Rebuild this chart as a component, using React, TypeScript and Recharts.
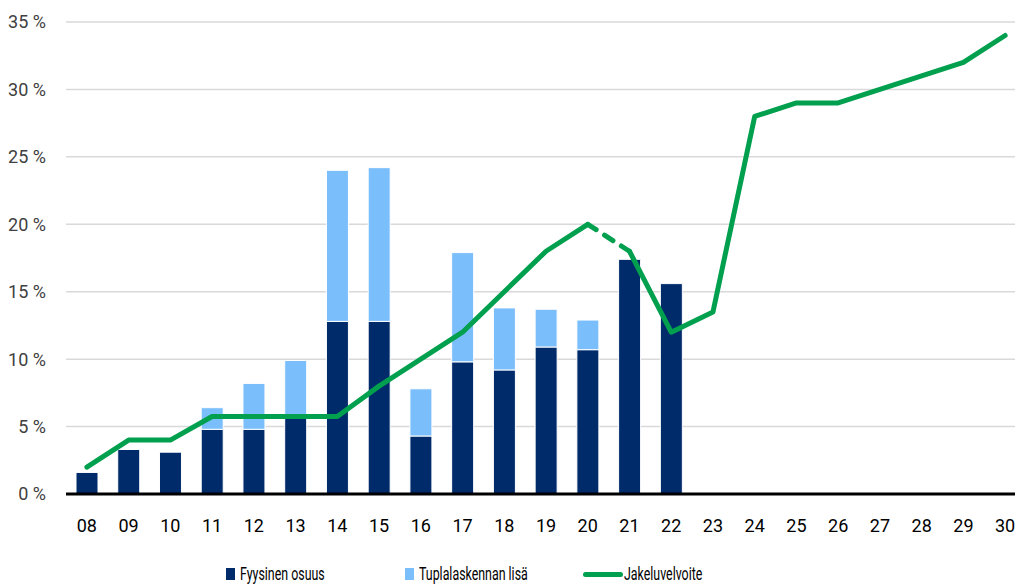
import {
  Bar,
  CartesianGrid,
  ComposedChart,
  Legend,
  Line,
  XAxis,
  YAxis,
} from "recharts";

const years = ["08", "09", "10", "11", "12", "13", "14", "15", "16", "17", "18", "19", "20", "21", "22", "23", "24", "25", "26", "27", "28", "29", "30"];

// Fyysinen osuus (%)
const fyysinen = [1.6, 3.3, 3.1, 4.8, 4.8, 5.7, 12.8, 12.8, 4.3, 9.8, 9.2, 10.9, 10.7, 17.4, 15.6, null, null, null, null, null, null, null, null];

// Tuplalaskennan lisä (%)
const tupla = [0, 0, 0, 1.6, 3.4, 4.2, 11.2, 11.4, 3.5, 8.1, 4.6, 2.8, 2.2, 0, 0, null, null, null, null, null, null, null, null];

// Jakeluvelvoite (%)
const jakelu = [2, 4, 4, 5.75, 5.75, 5.75, 5.75, 8, 10, 12, 15, 18, 20, 18, 12, 13.5, 28, 29, 29, 30, 31, 32, 34];

const yTicks = [0, 5, 10, 15, 20, 25, 30, 35];

// the 20 -> 21 segment is drawn dashed
const DASH_FROM = 12;
const DASH_TO = 13;

const NAVY = "#002B6B";
const LIGHT = "#7BBEFC";
const GREEN = "#00A04E";
const FONT = "Roboto, 'Liberation Sans', sans-serif";

const data = years.map((y, i) => ({
  year: y,
  fyysinen: fyysinen[i],
  tupla: tupla[i],
  jakeluA: i <= DASH_FROM ? jakelu[i] : null,
  jakeluDash: i >= DASH_FROM && i <= DASH_TO ? jakelu[i] : null,
  jakeluB: i >= DASH_TO ? jakelu[i] : null,
}));

const legendItems = [
  { label: "Fyysinen osuus", color: NAVY, kind: "box" },
  { label: "Tuplalaskennan lisä", color: LIGHT, kind: "box" },
  { label: "Jakeluvelvoite", color: GREEN, kind: "line" },
];

function ChartLegend() {
  return (
    <div style={{ display: "flex", height: 24, alignItems: "center", paddingLeft: 226, fontFamily: FONT, fontSize: 18.5, color: "#000" }}>
      {legendItems.map((it) => (
        <div key={it.label} style={{ width: 178.5, display: "flex", alignItems: "center", flex: "none" }}>
          {it.kind === "box" ? (
            <span style={{ width: 9, height: 12, background: it.color, marginRight: 5, flex: "none" }} />
          ) : (
            <span style={{ width: 40, height: 5, borderRadius: 3, background: it.color, marginRight: 1, flex: "none" }} />
          )}
          <span style={{ display: "inline-block", whiteSpace: "nowrap", transform: "scaleX(0.67)", transformOrigin: "left center" }}>
            {it.label}
          </span>
        </div>
      ))}
    </div>
  );
}

export default function App() {
  return (
    <div style={{ position: "absolute", top: 0, left: 0, width: 1015, height: 586, overflow: "hidden", background: "#fff" }}>
      <ComposedChart
        width={1040}
        height={586}
        data={data}
        margin={{ top: 22, right: 14, left: 0, bottom: 0 }}
        barSize={22}
      >
        <CartesianGrid vertical={false} stroke="#d9d9d9" strokeWidth={1.5} />
        <XAxis
          dataKey="year"
          axisLine={{ stroke: "#000", strokeWidth: 3 }}
          tickLine={false}
          tickSize={0}
          tickMargin={25}
          height={68}
          interval={0}
          tick={{ fill: "#000", fontSize: 18, fontFamily: FONT }}
        />
        <YAxis
          domain={[0, 35]}
          ticks={yTicks}
          width={66}
          axisLine={false}
          tickLine={false}
          tickSize={0}
          tickMargin={20}
          tickFormatter={(v) => `${v} %`}
          tick={{ fill: "#404040", fontSize: 18, fontFamily: FONT }}
        />
        <Legend verticalAlign="bottom" content={() => <ChartLegend />} />
        <Bar dataKey="fyysinen" stackId="a" fill={NAVY} stroke="#fff" strokeWidth={1} isAnimationActive={false} />
        <Bar dataKey="tupla" stackId="a" fill={LIGHT} stroke="#fff" strokeWidth={1} isAnimationActive={false} />
        <Line dataKey="jakeluA" stroke={GREEN} strokeWidth={5} dot={false} strokeLinecap="round" strokeLinejoin="round" isAnimationActive={false} />
        <Line dataKey="jakeluDash" stroke={GREEN} strokeWidth={5} dot={false} strokeDasharray="10 10" strokeLinecap="round" isAnimationActive={false} />
        <Line dataKey="jakeluB" stroke={GREEN} strokeWidth={5} dot={false} strokeLinecap="round" strokeLinejoin="round" isAnimationActive={false} />
      </ComposedChart>
    </div>
  );
}
